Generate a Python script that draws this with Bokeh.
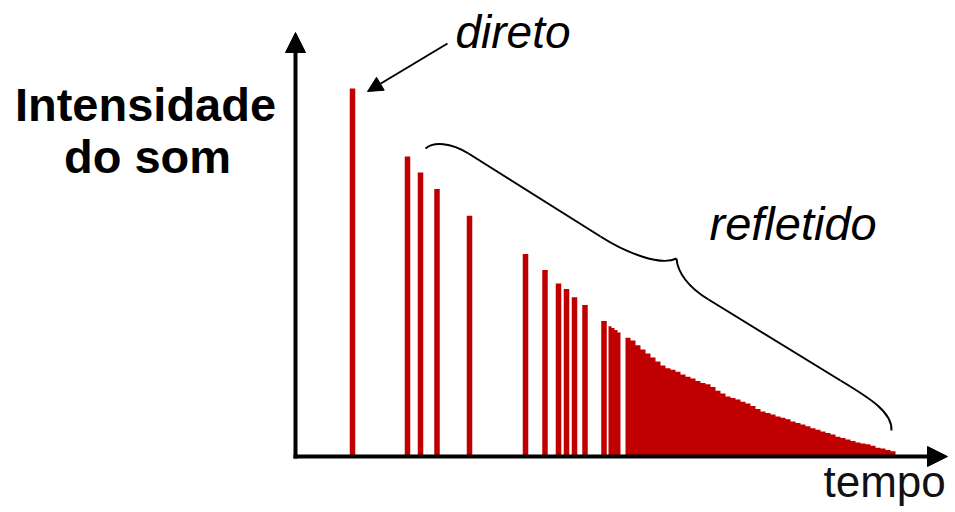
from bokeh.plotting import figure
from bokeh.models import Range1d, Label, Arrow, NormalHead
from bokeh.embed import file_html
from bokeh.resources import INLINE

# Echogram: direct sound, early reflections, then the dense reverberant tail
# time in ms, intensity in arbitrary units (direct sound = 100)
spike_time = [11.4, 22.4, 25.0, 28.3, 34.8, 46.0, 49.9, 52.6, 54.2, 55.8, 57.9, 61.7]
spike_level = [100.0, 81.5, 77.2, 72.7, 65.4, 55.0, 50.7, 47.0, 45.5, 43.3, 41.2, 36.8]

# tight cluster of reflections just before the tail (start of each 0.6 ms slot)
cluster_start = [62.6, 63.2, 63.8, 64.4]
cluster_level = [35.4, 34.9, 34.4, 33.7]
CLUSTER_SLOT = 0.6

# reverberant tail, one level per 1 ms slot
tail_start = list(range(66, 120))
tail_level = [32.3, 31.5, 30.2, 29.1, 28.0, 26.9, 25.8, 24.7, 24.0, 23.6,
              23.0, 22.3, 21.7, 21.2, 20.5, 20.0, 19.6, 18.9, 17.9, 17.1,
              16.3, 15.9, 15.5, 14.9, 14.4, 13.7, 12.9, 12.2, 11.8, 11.4,
              10.9, 10.5, 10.1, 9.5, 9.1, 8.7, 8.2, 7.7, 7.3, 6.8,
              6.4, 6.0, 5.4, 5.0, 4.6, 4.2, 3.8, 3.5, 3.3, 2.9,
              2.4, 2.2, 1.8, 1.4]

RED = "#c00000"
W, H = 955, 512
X0, PX_PER_MS = 295, 5.0       # canvas column of t = 0, pixels per ms
Y0, PX_PER_UNIT = 456, 3.68    # canvas row of level 0, pixels per unit


def dx(px):
    return (px - X0) / PX_PER_MS


def dy(py):
    return (Y0 - py) / PX_PER_UNIT


p = figure(width=W, height=H, output_backend="svg", toolbar_location=None,
           x_range=Range1d(dx(0), dx(W)), y_range=Range1d(dy(H), dy(0)),
           min_border=0, outline_line_color=None)
p.axis.visible = False
p.grid.visible = False
p.background_fill_color = "white"
p.border_fill_color = "white"

# reverberant tail
p.varea_step(x=tail_start + [tail_start[-1] + 1], y1=0,
             y2=tail_level + [tail_level[-1]], step_mode="after",
             fill_color=RED)
# cluster drawn as one stepped block so the slots join without seams
p.varea_step(x=cluster_start + [cluster_start[-1] + CLUSTER_SLOT], y1=0,
             y2=cluster_level + [cluster_level[-1]], step_mode="after",
             fill_color=RED)
# discrete reflections and direct sound
p.vbar(x=spike_time, top=spike_level, bottom=0, width=1.1,
       fill_color=RED, line_color=None)

# axes with arrow heads
p.add_layout(Arrow(end=NormalHead(size=20, fill_color="black", line_color="black"),
                   x_start=dx(295), y_start=dy(458), x_end=dx(295), y_end=dy(32),
                   line_width=4, line_color="black"))
p.add_layout(Arrow(end=NormalHead(size=20, fill_color="black", line_color="black"),
                   x_start=dx(293), y_start=dy(456), x_end=dx(947), y_end=dy(456),
                   line_width=4, line_color="black"))

# pointer to the direct sound
p.add_layout(Arrow(end=NormalHead(size=15, fill_color="black", line_color="black"),
                   x_start=dx(447), y_start=dy(43), x_end=dx(367), y_end=dy(91),
                   line_width=2, line_color="black"))

# curly brace over the reflections
def bez(pts):
    (a, b), (c, d), (e, f), (g, h) = pts
    p.bezier(x0=[dx(a)], y0=[dy(b)], cx0=[dx(c)], cy0=[dy(d)],
             cx1=[dx(e)], cy1=[dy(f)], x1=[dx(g)], y1=[dy(h)],
             line_color="black", line_width=2)


def seg(a, b, c, d):
    p.line(x=[dx(a), dx(c)], y=[dy(b), dy(d)], line_color="black", line_width=2)


bez([(425, 148), (433, 141), (450, 142), (468, 153)])
seg(468, 153, 600, 236)
bez([(600, 236), (625, 252), (660, 266), (676, 258)])
bez([(676, 258), (677, 272), (688, 287), (708, 299)])
seg(708, 299, 840, 380)
bez([(840, 380), (870, 398), (892, 412), (891, 430)])

FONT = "Liberation Sans"
p.add_layout(Label(x=dx(145), y=dy(104), text="Intensidade", text_align="center",
                   text_baseline="alphabetic", text_font=FONT, text_font_style="bold",
                   text_font_size="47px", text_color="black"))
p.add_layout(Label(x=dx(147), y=dy(156), text="do som", text_align="center",
                   text_baseline="alphabetic", text_font=FONT, text_font_style="bold",
                   text_font_size="47px", text_color="black"))
p.add_layout(Label(x=dx(455), y=dy(31), text="direto", text_align="left",
                   text_baseline="alphabetic", text_font=FONT, text_font_style="italic",
                   text_font_size="46px", text_color="black"))
p.add_layout(Label(x=dx(709), y=dy(223), text="refletido", text_align="left",
                   text_baseline="alphabetic", text_font=FONT, text_font_style="italic",
                   text_font_size="47px", text_color="black"))
p.add_layout(Label(x=dx(823), y=dy(481), text="tempo", text_align="left",
                   text_baseline="alphabetic", text_font=FONT,
                   text_font_size="44px", text_color="#111111"))

open("out.html", "w").write(file_html(p, INLINE))
